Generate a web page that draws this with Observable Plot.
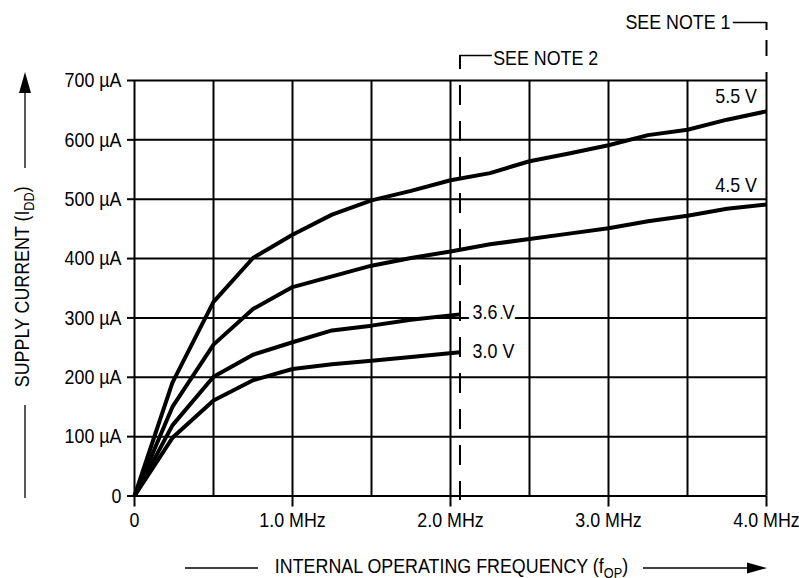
<!DOCTYPE html>
<html>
<head>
<meta charset="utf-8">
<script src="https://cdn.jsdelivr.net/npm/d3@7"></script>
<script src="https://cdn.jsdelivr.net/npm/@observablehq/plot@0.6"></script>
<style>
  html, body { margin: 0; padding: 0; background: #fff; }
  #chart { width: 799px; height: 578px; }
</style>
</head>
<body>
<div id="chart"></div>
<script>
// ---- data ----
const freqFull = [0, 0.24, 0.5, 0.75, 1.0, 1.25, 1.5, 1.75, 2.0, 2.25, 2.5, 2.75, 3.0, 3.25, 3.5, 3.75, 4.0];
const supply55 = [0, 191, 327, 401, 440, 474, 498, 514, 532, 544, 564, 577, 591, 608, 617, 634, 648];
const supply45 = [0, 150, 255, 315, 352, 370, 388, 401, 412, 424, 433, 442, 451, 463, 472, 484, 491];
const freqLow  = [0, 0.24, 0.5, 0.75, 1.0, 1.25, 1.5, 1.75, 2.06];
const supply36 = [0, 119, 201, 238, 259, 279, 287, 297, 306];
const supply30 = [0, 98, 161, 195, 214, 222, 228, 234, 242];

const seriesNames = ["5.5 V", "4.5 V", "3.6 V", "3.0 V"];
const labelFreq = [3.94, 3.94, 2.14, 2.14];
const labelCurrent = [673, 524, 309, 243];

const xGrid = [0, 0.5, 1, 1.5, 2, 2.5, 3, 3.5, 4];
const xTicks = [0, 1, 2, 3, 4];
const yTicks = [0, 100, 200, 300, 400, 500, 600, 700];
const noteFreq = [2.06, 4.0];
const noteText = ["SEE NOTE 2", "SEE NOTE 1"];

// ---- build tables ----
const rows = [];
[[freqFull, supply55], [freqFull, supply45], [freqLow, supply36], [freqLow, supply30]]
  .forEach(([fs, vs], k) => fs.forEach((f, i) => rows.push({series: seriesNames[k], f, v: vs[i]})));
const labels = seriesNames.map((s, i) => ({s, f: labelFreq[i], v: labelCurrent[i]}));
const labelsRight = labels.filter(d => d.f > 3);
const labelsLeft = labels.filter(d => d.f <= 3);

const FONT = "'Liberation Sans', Arial, sans-serif";

const chart = Plot.plot({
  width: 799,
  height: 578,
  marginLeft: 134,
  marginRight: 33,
  marginTop: 80,
  marginBottom: 82.5,
  style: {fontFamily: FONT, fontSize: "21px", color: "#000", background: "#fff"},
  x: {domain: [0, 4]},
  y: {domain: [0, 700]},
  marks: [
    Plot.ruleX(xGrid, {x: d => d, y1: 0, y2: 700, stroke: "#000", strokeWidth: 2}),
    Plot.ruleY(yTicks, {y: d => d, x1: 0, x2: 4, stroke: "#000", strokeWidth: 2}),
    Plot.axisX({ticks: xTicks, tickSize: 11, tickPadding: 13, lineAnchor: "middle", strokeWidth: 2,
      tickFormat: d => d === 0 ? "0" : d.toFixed(1) + " MHz", label: null}),
    Plot.axisY({ticks: yTicks, tickSize: 7, tickPadding: 6, strokeWidth: 2,
      tickFormat: d => d === 0 ? "0" : d + " µA", label: null}),
    Plot.line(rows, {x: "f", y: "v", z: "series", stroke: "#000", strokeWidth: 4, strokeLinejoin: "round", strokeLinecap: "butt"}),
    // note 2: dashed boundary from the bracket down past the axis
    Plot.ruleX([noteFreq[0]], {x: d => d, stroke: "#000", strokeWidth: 2, strokeDasharray: "20,16", strokeDashoffset: 6,
      insetTop: -25, insetBottom: -4.5}),
    Plot.ruleY([700], {y: d => d, x1: noteFreq[0], x2: 2.265, dy: -25, stroke: "#000", strokeWidth: 1.5}),
    // note 1: dashed boundary above the frame at 4.0 MHz
    Plot.ruleX([noteFreq[1]], {x: d => d, y1: 700, y2: 700, stroke: "#000", strokeWidth: 2, strokeDasharray: "8,10,16,16,20",
      insetTop: -58}),
    Plot.ruleY([700], {y: d => d, x1: 3.79, x2: noteFreq[1], dy: -58, stroke: "#000", strokeWidth: 1.5}),
    Plot.text([noteText[0]], {x: 2.27, frameAnchor: "top", dy: -22, text: d => d, textAnchor: "start", lineAnchor: "middle", fill: "#000"}),
    Plot.text([noteText[1]], {x: 3.772, frameAnchor: "top", dy: -58, text: d => d, textAnchor: "end", lineAnchor: "middle", fill: "#000"}),
    // series labels
    Plot.text(labelsRight, {x: "f", y: "v", text: "s", textAnchor: "end",
      lineAnchor: "middle", fill: "#000", stroke: "#fff", strokeWidth: 6}),
    Plot.text(labelsLeft, {x: "f", y: "v", text: "s", textAnchor: "start",
      lineAnchor: "middle", fill: "#000", stroke: "#fff", strokeWidth: 11}),
    // axis titles
    Plot.text(["SUPPLY CURRENT (I|DD|)"], {frameAnchor: "left", dx: -112, dy: -1.5, rotate: -90, text: d => d,
      textAnchor: "middle", lineAnchor: "middle", fill: "#000", className: "sublabel"}),
    Plot.text(["INTERNAL OPERATING FREQUENCY (f|OP|)"], {frameAnchor: "bottom", dx: 1, dy: 70, text: d => d,
      textAnchor: "middle", lineAnchor: "middle", fill: "#000", className: "sublabel"})
  ]
});

// subscripts in the axis titles
d3.select(chart).selectAll(".sublabel text").each(function () {
  const t = d3.select(this);
  const parts = t.text().split("|");
  t.text(null);
  parts.forEach((p, i) => {
    const ts = t.append("tspan").text(p);
    if (i % 2 === 1) ts.attr("font-size", "15px").attr("dy", 5);
    else if (i > 0) ts.attr("dy", -5);
  });
});

// arrowed guide lines beside the axis titles
const g = d3.select(chart).append("g").attr("stroke", "#000").attr("stroke-width", 1.3);
g.append("line").attr("x1", 25).attr("x2", 25).attr("y1", 92).attr("y2", 168);
g.append("path").attr("d", "M25,72L19,93L31,93Z").attr("fill", "#000").attr("stroke", "none");
g.append("line").attr("x1", 25).attr("x2", 25).attr("y1", 405).attr("y2", 498);
g.append("line").attr("x1", 185).attr("x2", 258).attr("y1", 568).attr("y2", 568);
g.append("line").attr("x1", 643).attr("x2", 750).attr("y1", 568).attr("y2", 568);
g.append("path").attr("d", "M767,568L747,562.5L747,573.5Z").attr("fill", "#000").attr("stroke", "none");

document.getElementById("chart").appendChild(chart);

// condensed lettering, like the reference's narrow typeface
d3.select(chart).selectAll("text").each(function () {
  const w = this.getComputedTextLength();
  if (w > 0) {
    this.setAttribute("textLength", (w * 0.85).toFixed(1));
    this.setAttribute("lengthAdjust", "spacingAndGlyphs");
  }
});
</script>
</body>
</html>
